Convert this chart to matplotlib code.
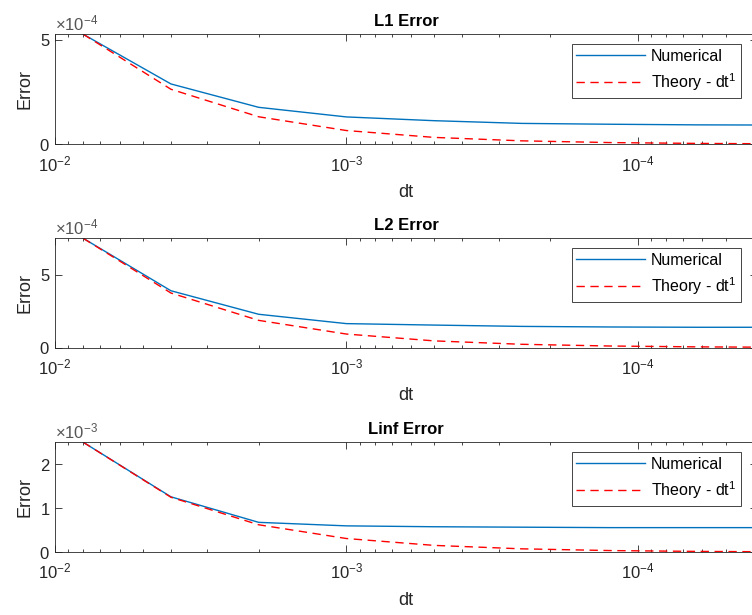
import numpy as np
import matplotlib
matplotlib.use('Agg')
import matplotlib.pyplot as plt
from matplotlib.ticker import LogLocator, NullFormatter

plt.rcParams['font.family'] = ['Liberation Sans', 'DejaVu Sans']
plt.rcParams['mathtext.default'] = 'regular'

# step sizes
dt = [8e-3, 4e-3, 2e-3, 1e-3, 5e-4, 2.5e-4, 1.25e-4, 6.25e-5, 3.125e-5]

# numerical errors
err_l1 = [5.27e-4, 2.89e-4, 1.77e-4, 1.31e-4, 1.13e-4, 1.00e-4, 0.96e-4, 0.93e-4, 0.92e-4]
err_l2 = [7.49e-4, 3.90e-4, 2.29e-4, 1.65e-4, 1.55e-4, 1.46e-4, 1.42e-4, 1.40e-4, 1.40e-4]
err_linf = [2.50e-3, 1.26e-3, 0.68e-3, 0.60e-3, 0.58e-3, 0.57e-3, 0.56e-3, 0.56e-3, 0.56e-3]

titles = ['L1 Error', 'L2 Error', 'Linf Error']
yticks = [[0, 5e-4], [0, 5e-4], [0, 1e-3, 2e-3]]

AX_COLOR = '#262626'
BLUE = '#0072BD'

fig = plt.figure(figsize=(7.52, 6.15), dpi=100)
bottoms = [0.7654, 0.4346, 0.1020]
heights = [0.1789, 0.1779, 0.1789]

for k, err in enumerate([err_l1, err_l2, err_linf]):
    ax = fig.add_axes([0.0731, bottoms[k], 0.9335, heights[k]])
    dt_arr = np.array(dt)
    theory = err[0] * dt_arr / dt_arr[0]   # first-order reference line
    ax.plot(dt, err, color=BLUE, lw=1.0, label='Numerical')
    ax.plot(dt, theory, color='#FF0000', lw=1.0, linestyle=(0, (6, 4)),
            label='Theory - dt$^1$')

    ax.set_xscale('log')
    ax.set_xlim(1e-2, 3.9e-5)
    ax.set_ylim(0, err[0])
    ax.set_yticks(yticks[k])
    ax.ticklabel_format(axis='y', style='sci', scilimits=(0, 0), useMathText=True)
    ax.xaxis.set_major_locator(LogLocator(base=10, numticks=10))
    ax.xaxis.set_minor_locator(LogLocator(base=10, subs=np.arange(2, 10), numticks=10))
    ax.xaxis.set_minor_formatter(NullFormatter())

    ax.tick_params(which='both', direction='in', top=True, right=True,
                   colors=AX_COLOR, labelsize=12, width=0.6)
    ax.tick_params(which='major', length=5)
    ax.tick_params(which='minor', length=2.5)
    ax.tick_params(axis='x', which='major', pad=7)
    for s in ax.spines.values():
        s.set_color(AX_COLOR)
        s.set_linewidth(0.6)
    ax.yaxis.get_offset_text().set_color('#555555')
    ax.yaxis.get_offset_text().set_fontsize(12)

    ax.set_title(titles[k], fontsize=12, fontweight='bold', pad=6)
    ax.set_xlabel('dt', fontsize=13, color=AX_COLOR, labelpad=7)
    ax.set_ylabel('Error', fontsize=13, color=AX_COLOR, labelpad=4)

    leg = ax.legend(loc='upper right', bbox_to_anchor=(0.977, 0.909),
                    borderaxespad=0, fancybox=False, framealpha=1,
                    edgecolor=AX_COLOR, fontsize=11.5, handlelength=4.3,
                    handletextpad=0.35, borderpad=0.3, labelspacing=0.45)
    leg.get_frame().set_linewidth(0.6)

fig.savefig('out.png', dpi=100)
